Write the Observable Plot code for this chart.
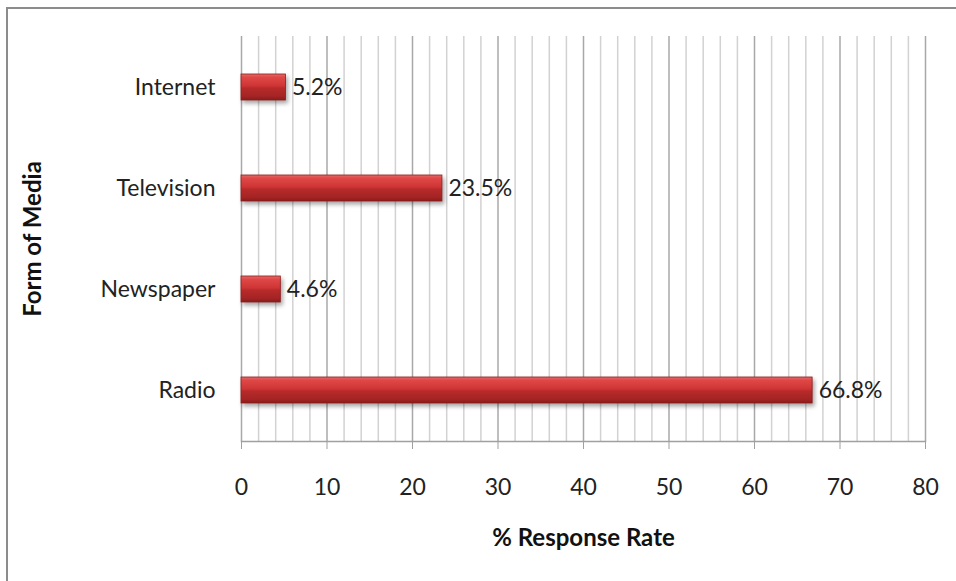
<!DOCTYPE html>
<html>
<head>
<meta charset="utf-8">
<script src="https://cdn.jsdelivr.net/npm/d3@7"></script>
<script src="https://cdn.jsdelivr.net/npm/@observablehq/plot@0.6"></script>
<style>
  html, body { margin: 0; padding: 0; background: #fff; }
  #chart { position: relative; width: 956px; height: 581px; overflow: hidden; }
  #frame { position: absolute; left: 6px; top: 7px; width: 980px; height: 600px;
           border: 2.5px solid #8c8c8c; box-sizing: border-box; pointer-events: none; }
</style>
</head>
<body>
<div id="chart"><div id="frame"></div></div>
<script>
// Survey responses by form of media (percent)
const media = ["Internet", "Television", "Newspaper", "Radio"];
const responseRate = [5.2, 23.5, 4.6, 66.8];
const xTicks = [0, 10, 20, 30, 40, 50, 60, 70, 80];
const gridValues = d3.range(0, 81, 2);

const rows = media.map((m, i) => ({media: m, rate: responseRate[i]}));

const font = "Lato, 'Open Sans', sans-serif";
const fs = 23;

const plot = Plot.plot({
  width: 956,
  height: 581,
  marginLeft: 241,
  marginRight: 31,
  marginTop: 36,
  marginBottom: 140,
  style: {fontFamily: font, fontSize: fs + "px", color: "#222", background: "transparent", overflow: "visible"},
  x: {domain: [0, 80], ticks: xTicks, label: null},
  y: {domain: media, paddingInner: 0.74, paddingOuter: 0.37, label: null},
  marks: [
    // light minor gridlines every 2 units
    Plot.ruleX(gridValues.filter(v => v % 10 !== 0), {stroke: "#d2d2d2", strokeWidth: 1.5}),
    // darker major gridlines at labelled ticks
    Plot.ruleX(xTicks, {stroke: "#a8a8a8", strokeWidth: 1.5}),
    // axis line along the bottom of the plot area
    Plot.frame({anchor: "bottom", stroke: "#a0a0a0", strokeWidth: 1.5}),
    Plot.axisX({ticks: xTicks, tickSize: 8, tickPadding: 29, stroke: "#a0a0a0", fontSize: fs, fill: "#222", label: null}),
    Plot.axisY({tickSize: 0, tickPadding: 26, fontSize: fs, fill: "#222", label: null}),
    Plot.barX(rows, {x: "rate", y: "media", fill: "url(#barShade)", stroke: "#8e1c1c", strokeWidth: 0.8}),
    Plot.text(rows, {x: "rate", y: "media", text: d => d.rate.toFixed(1) + "%", textAnchor: "start", dx: 6, fontSize: fs, fill: "#222"}),
    Plot.text(["% Response Rate"], {frameAnchor: "bottom", textAnchor: "middle", dy: 104, fontSize: 24, fontWeight: "bold", fill: "#111"}),
    Plot.text(["Form of Media"], {frameAnchor: "left", textAnchor: "middle", dx: -208, rotate: -90, fontSize: 24, fontWeight: "bold", fill: "#111"})
  ]
});

// shading for the cylinder-like bars
const svg = d3.select(plot);
const defs = svg.insert("defs", ":first-child");
const g = defs.append("linearGradient").attr("id", "barShade").attr("x1", 0).attr("y1", 0).attr("x2", 0).attr("y2", 1);
[[0, "#e56a6a"], [0.12, "#e04848"], [0.45, "#cf3535"], [0.55, "#b72a2a"], [0.85, "#a52424"], [1, "#8a1b1b"]]
  .forEach(([o, c]) => g.append("stop").attr("offset", o).attr("stop-color", c));
svg.selectAll("g[aria-label=bar]").style("filter", "drop-shadow(2px 3px 2px rgba(0,0,0,0.35))");

document.getElementById("chart").appendChild(plot);
</script>
</body>
</html>
